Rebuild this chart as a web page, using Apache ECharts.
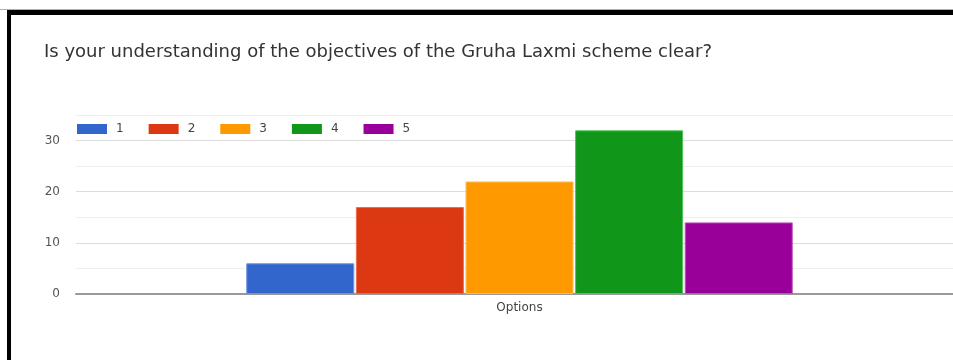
<!DOCTYPE html>
<html>
<head>
<meta charset="utf-8">
<script src="https://cdn.jsdelivr.net/npm/echarts@6/dist/echarts.min.js"></script>
<style>
  html, body { margin: 0; padding: 0; background: #fff; }
  #wrap { position: relative; width: 953px; height: 360px; overflow: hidden; }
  /* plot runs a little past the right edge, so the canvas is wider than the view */
  #chart { position: absolute; left: 0; top: 0; width: 963px; height: 360px; }
  #rule { position: absolute; left: 0; top: 9px; width: 953px; height: 1px; background: #b0b0b0; }
  #frame { position: absolute; left: 7px; top: 10px; width: 960px; height: 360px;
           border-left: 4px solid #000; border-top: 5px solid #000; box-sizing: border-box; }
</style>
</head>
<body>
<div id="wrap">
  <div id="chart"></div>
  <div id="rule"></div>
  <div id="frame"></div>
</div>
<script>
// Survey responses on a 1–5 scale
const titleText = 'Is your understanding of the objectives of the Gruha Laxmi scheme clear?';
const categories = ['Options'];
const seriesNames = ['1', '2', '3', '4', '5'];
const seriesValues = [6, 17, 22, 32, 14];
const seriesColors = ['#3366cc', '#dc3912', '#ff9900', '#109618', '#990099'];
const seriesEdges = ['#6d93e0', '#ee6c4b', '#ffbb55', '#52c25a', '#c050c0'];
const yTicks = [0, 10, 20, 30];

const FONT = '"DejaVu Sans", "Liberation Sans", Arial, sans-serif';
const chart = echarts.init(document.getElementById('chart'), null, { renderer: 'canvas' });

const series = seriesNames.map((name, i) => ({
  name: name,
  type: 'bar',
  data: [seriesValues[i]],
  barWidth: 108,
  barGap: '1.5%',
  itemStyle: { color: seriesColors[i], borderColor: seriesEdges[i], borderWidth: 1 },
  emphasis: { disabled: true }
}));

chart.setOption({
  animation: false,
  textStyle: { fontFamily: FONT },
  title: {
    text: titleText,
    left: 39,
    top: 38,
    textStyle: { fontSize: 18, fontWeight: 'normal', color: '#333', fontFamily: FONT }
  },
  legend: {
    left: 72,
    top: 118,
    itemWidth: 30,
    itemHeight: 10,
    itemGap: 25,
    icon: 'rect',
    itemStyle: { borderWidth: 0 },
    textStyle: { fontSize: 12, color: '#444', fontFamily: FONT, padding: [0, 0, 0, 4] },
    data: seriesNames
  },
  grid: { left: 76, top: 115, right: 0, bottom: 66, containLabel: false },
  xAxis: {
    type: 'category',
    data: categories,
    axisLine: { lineStyle: { color: '#999', width: 2 } },
    axisTick: { show: false },
    axisLabel: { color: '#444', fontSize: 12, margin: 8, fontFamily: FONT }
  },
  yAxis: {
    type: 'value',
    min: 0,
    max: 35,
    interval: 5,
    axisLine: { show: false },
    axisTick: { show: false },
    axisLabel: {
      color: '#555',
      fontSize: 12,
      margin: 16,
      fontFamily: FONT,
      showMaxLabel: false,
      formatter: v => (yTicks.indexOf(v) >= 0 ? String(v) : '')
    },
    splitLine: { lineStyle: { color: ['#dcdcdc', '#efefef'], width: 1 } }
  },
  series: series
});
</script>
</body>
</html>
